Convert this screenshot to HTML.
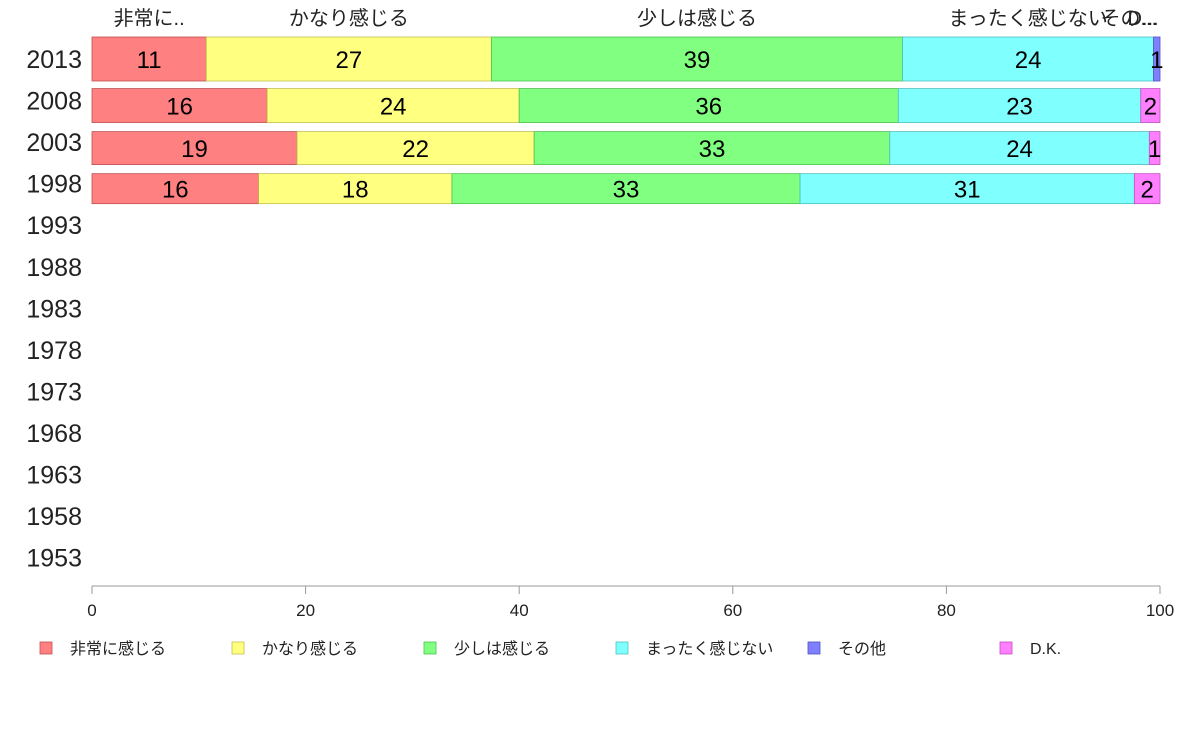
<!DOCTYPE html>
<html><head><meta charset="utf-8"><style>
body{margin:0;background:#fff;}
svg text{font-family:"Liberation Sans","Noto Sans CJK JP",sans-serif;}
</style></head><body>
<svg id="chart" width="1188" height="736" xmlns="http://www.w3.org/2000/svg"></svg>
<script>
const years=["2013","2008","2003","1998","1993","1988","1983","1978","1973","1968","1963","1958","1953"];
const categories=["非常に感じる","かなり感じる","少しは感じる","まったく感じない","その他","D.K."];
const topLabels=["非常に..","かなり感じる","少しは感じる","まったく感じない","その...","D..."];
const s_very=[10.7,16.4,19.2,15.6];
const s_fair=[26.7,23.6,22.2,18.1];
const s_little=[38.5,35.5,33.3,32.6];
const s_none=[23.5,22.7,24.3,31.3];
const s_other=[0.6,0,0,0];
const s_dk=[0,1.8,1.0,2.4];
const barWeights=[44,34,33,30];
const xTicks=[0,20,40,60,80,100];
const colors=["#ff8080","#ffff80","#80ff80","#80ffff","#8080ff","#ff80ff"];
const strokes=["#c05050","#c0c050","#50c050","#50c0c0","#5050c0","#c050c0"];
const NS="http://www.w3.org/2000/svg";
const svg=document.getElementById("chart");
const x0=92,x1=1160;
const xs=v=>x0+(x1-x0)*v/100;
const rowY=i=>59+i*41.55;
function mk(t,a,txt){const e=document.createElementNS(NS,t);for(const k in a)e.setAttribute(k,a[k]);if(txt!=null)e.textContent=txt;svg.appendChild(e);return e;}
const series=[s_very,s_fair,s_little,s_none,s_other,s_dk];
years.forEach((y,i)=>{
  const t=mk("text",{x:82,y:rowY(i)+9,"text-anchor":"end","font-size":25,fill:"#222"},y);
  
  
});
for(let i=0;i<s_very.length;i++){
  let acc=0;const h=barWeights[i];const cy=rowY(i)+(i===0?0:i===1?5:i===2?6:5);
  series.forEach((s,k)=>{
    const v=s[i];
    if(v>0){
      const r=mk("rect",{x:xs(acc),y:cy-h/2,width:xs(acc+v)-xs(acc),height:h,fill:colors[k],stroke:strokes[k],"stroke-width":0.8});
      
      
      const t=mk("text",{x:(xs(acc)+xs(acc+v))/2,y:cy+9,"text-anchor":"middle","font-size":24,fill:"#000"},String(Math.round(v)));
      
      
    }
    if(i===0){
      const cx=k===5?1143:(xs(acc)+xs(acc+v))/2+(k===4?-28:0);
      const t=mk("text",{x:cx,y:25,"text-anchor":"middle","font-size":20,fill:"#222"},topLabels[k]);
      
      
    }
    acc+=v;
  });
}
const ax=mk("line",{x1:x0,x2:x1,y1:586,y2:586,stroke:"#999","stroke-width":1});


xTicks.forEach(v=>{
  mk("line",{x1:xs(v),x2:xs(v),y1:586,y2:594,stroke:"#999"});
  const t=mk("text",{x:xs(v),y:616,"text-anchor":"middle","font-size":17,fill:"#222"},String(v));
  
  
});
categories.forEach((c,k)=>{
  const lx=40+k*192;
  const r=mk("rect",{x:lx,y:642,width:12,height:12,fill:colors[k],stroke:strokes[k],"stroke-width":0.8});
  
  
  const t=mk("text",{x:lx+30,y:654,"font-size":16,fill:"#222"},c);
  
  
});
</script>
</body></html>
